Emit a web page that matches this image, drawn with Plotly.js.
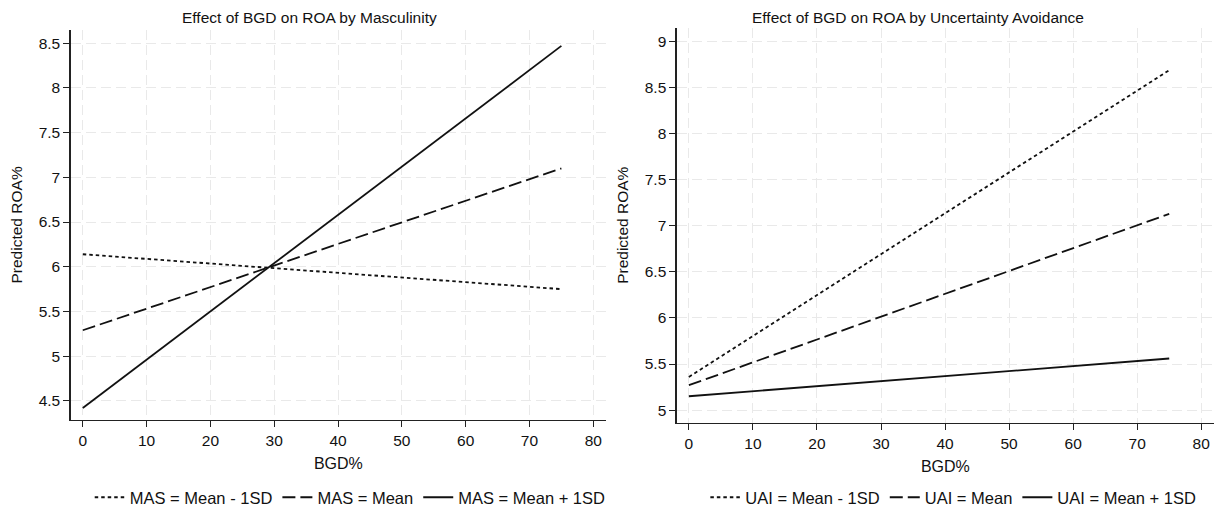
<!DOCTYPE html>
<html>
<head>
<meta charset="utf-8">
<script src="https://cdn.plot.ly/plotly-3.0.1.min.js"></script>
<style>html,body{margin:0;padding:0;background:#fff;}#chart{width:1216px;height:515px;}</style>
</head>
<body>
<div id="chart"></div>
<script>
// ---- data ----
const bgd = [0, 75];
const masLow  = [6.14, 5.75];
const masMean = [5.29, 7.10];
const masHigh = [4.42, 8.47];
const uaiLow  = [5.36, 8.69];
const uaiMean = [5.27, 7.13];
const uaiHigh = [5.15, 5.56];
const masNames = ['MAS = Mean - 1SD', 'MAS = Mean', 'MAS = Mean + 1SD'];
const uaiNames = ['UAI = Mean - 1SD', 'UAI = Mean', 'UAI = Mean + 1SD'];
const xTicks = [0, 10, 20, 30, 40, 50, 60, 70, 80];
const yTicksLeft = [4.5, 5, 5.5, 6, 6.5, 7, 7.5, 8, 8.5];
const yTicksRight = [5, 5.5, 6, 6.5, 7, 7.5, 8, 8.5, 9];
const titles = ['Effect of BGD on ROA by Masculinity', 'Effect of BGD on ROA by Uncertainty Avoidance'];
const xTitle = 'BGD%';
const yTitle = 'Predicted ROA%';

// ---- styles ----
const FONT = 'Liberation Sans, Arial, Helvetica, sans-serif';
const dashes = ['3.5px,3px', '13px,5px', 'solid'];
const LW = 1.8;

function mk(x, y, name, i, xa, ya, lg) {
  return {x: x, y: y, name: name, type: 'scatter', mode: 'lines',
    xaxis: xa, yaxis: ya, legend: lg,
    line: {color: '#111', width: LW, dash: dashes[i]}, hoverinfo: 'skip'};
}

const traces = [
  mk(bgd, masLow, masNames[0], 0, 'x', 'y', 'legend'),
  mk(bgd, masMean, masNames[1], 1, 'x', 'y', 'legend'),
  mk(bgd, masHigh, masNames[2], 2, 'x', 'y', 'legend'),
  mk(bgd, uaiLow, uaiNames[0], 0, 'x2', 'y2', 'legend2'),
  mk(bgd, uaiMean, uaiNames[1], 1, 'x2', 'y2', 'legend2'),
  mk(bgd, uaiHigh, uaiNames[2], 2, 'x2', 'y2', 'legend2')
];

const gridCommon = {showgrid: true, gridcolor: '#e9e9e9', gridwidth: 1, griddash: '10px,5px',
  zeroline: false, showline: true, linecolor: '#222', linewidth: 1.3, mirror: false,
  ticks: 'outside', ticklen: 6, tickcolor: '#222', tickwidth: 1,
  tickfont: {family: FONT, size: 15.5, color: '#111'}, automargin: false, fixedrange: true};

function xax(domain, anchor) {
  return Object.assign({}, gridCommon, {domain: domain, anchor: anchor, range: [-1.9, 82],
    tickmode: 'array', tickvals: xTicks, ticktext: xTicks.map(String),
    title: {text: xTitle, font: {family: FONT, size: 16, color: '#111'}, standoff: 10}});
}
function yax(domain, anchor, range, ticks) {
  return Object.assign({}, gridCommon, {domain: domain, anchor: anchor, range: range,
    tickmode: 'array', tickvals: ticks, ticktext: ticks.map(String),
    title: {text: yTitle, font: {family: FONT, size: 15.5, color: '#111'}, standoff: 12}});
}

const layout = {
  width: 1216, height: 515,
  margin: {l: 0, r: 0, t: 0, b: 0},
  paper_bgcolor: '#fff', plot_bgcolor: '#fff',
  font: {family: FONT, color: '#111'},
  showlegend: true,
  xaxis: xax([0.0581, 0.4984], 'y'),
  yaxis: yax([0.178, 0.9417], 'x', [4.286, 8.65], yTicksLeft),
  xaxis2: xax([0.5565, 0.9984], 'y2'),
  yaxis2: yax([0.1728, 0.9456], 'x2', [4.863, 9.15], yTicksRight),
  legend: {orientation: 'h', x: 0.288, xanchor: 'center', y: 0.026, yanchor: 'middle',
    font: {family: FONT, size: 16.5, color: '#111'}, bgcolor: 'rgba(0,0,0,0)', itemclick: false},
  legend2: {orientation: 'h', x: 0.784, xanchor: 'center', y: 0.026, yanchor: 'middle',
    font: {family: FONT, size: 16.5, color: '#111'}, bgcolor: 'rgba(0,0,0,0)', itemclick: false},
  annotations: [
    {text: titles[0], xref: 'paper', yref: 'paper', x: 0.2549, y: 1 - 18/515, xanchor: 'center', yanchor: 'middle',
     showarrow: false, font: {family: FONT, size: 15.5, color: '#111'}},
    {text: titles[1], xref: 'paper', yref: 'paper', x: 0.755, y: 1 - 18/515, xanchor: 'center', yanchor: 'middle',
     showarrow: false, font: {family: FONT, size: 15.5, color: '#111'}}
  ]
};

Plotly.newPlot('chart', traces, layout, {staticPlot: true, displayModeBar: false});
</script>
</body>
</html>
